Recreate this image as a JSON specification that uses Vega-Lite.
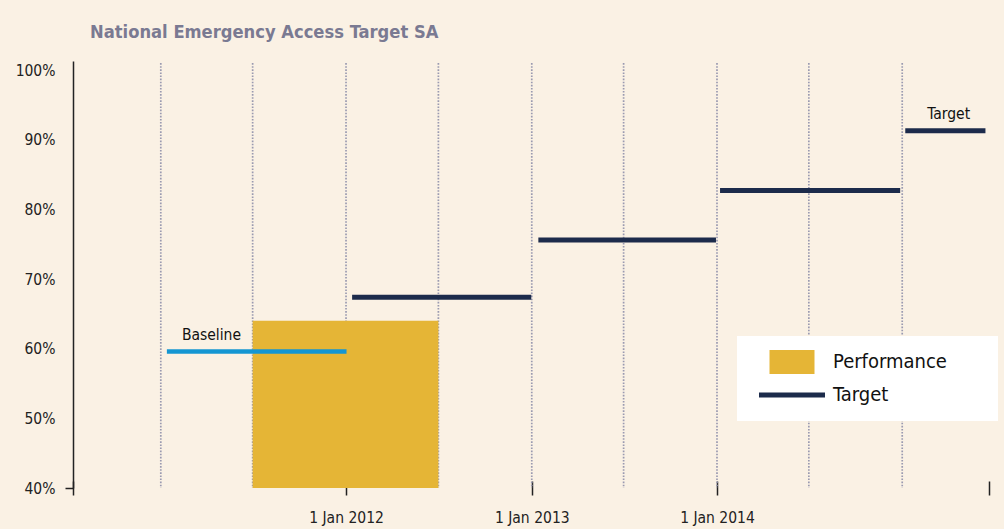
{
  "$schema": "https://vega.github.io/schema/vega-lite/v6.json",
  "autosize": "none",
  "width": 916,
  "height": 427,
  "padding": {"left": 73, "top": 61, "right": 15, "bottom": 41},
  "background": "#FAF1E4",
  "config": {
    "view": {"stroke": null},
    "font": "DejaVu Sans Condensed, sans-serif"
  },
  "title": {
    "text": "National Emergency Access Target SA",
    "anchor": "start",
    "frame": "group",
    "dx": 17,
    "offset": 19,
    "fontSize": 18.2,
    "fontWeight": "bold",
    "color": "#7A7A92",
    "font": "DejaVu Sans Condensed, sans-serif"
  },
  "datasets": {
    "series": [
      {"series": "Performance", "start": "2011-07-01", "end": "2012-07-01", "value": 64.0, "label": ""},
      {"series": "Baseline", "start": "2011-01-13", "end": "2012-01-02", "value": 59.6, "label": "Baseline"},
      {"series": "Target", "start": "2012-01-13", "end": "2012-12-31", "value": 67.4, "label": ""},
      {"series": "Target", "start": "2013-01-14", "end": "2013-12-30", "value": 75.6, "label": ""},
      {"series": "Target", "start": "2014-01-07", "end": "2014-12-28", "value": 82.7, "label": ""},
      {"series": "Target", "start": "2015-01-07", "end": "2015-06-14", "value": 91.3, "label": "Target"}
    ],
    "grid": [
      {"date": "2011-01-01"}, {"date": "2011-07-01"}, {"date": "2012-01-01"},
      {"date": "2012-07-01"}, {"date": "2013-01-01"}, {"date": "2013-07-01"},
      {"date": "2014-01-01"}, {"date": "2014-07-01"}, {"date": "2015-01-01"}
    ]
  },
  "layer": [
    {
      "data": {"name": "grid"},
      "mark": {"type": "rule", "color": "#9A9AB0", "strokeWidth": 1.7, "strokeDash": [1.6, 1.5]},
      "encoding": {
        "x": {
          "field": "date",
          "type": "temporal",
          "scale": {
            "type": "utc",
            "domain": [
              {"year": 2010, "month": 7, "date": 12, "utc": true},
              {"year": 2015, "month": 6, "date": 21, "utc": true}
            ],
            "nice": false
          },
          "axis": {
            "title": null,
            "orient": "bottom",
            "offset": -7,
            "zindex": 0,
            "domain": false,
            "grid": false,
            "values": [
              {"year": 2010, "month": 7, "date": 12, "utc": true},
              {"year": 2012, "month": 1, "date": 1, "utc": true},
              {"year": 2013, "month": 1, "date": 1, "utc": true},
              {"year": 2014, "month": 1, "date": 1, "utc": true},
              {"year": 2015, "month": 6, "date": 21, "utc": true}
            ],
            "labelExpr": "(utcyear(datum.value) < 2012 || utcyear(datum.value) > 2014) ? '' : utcFormat(datum.value, '%-d %b %Y')",
            "tickSize": 14,
            "tickWidth": 1.5,
            "tickColor": "#222222",
            "labelPadding": 15,
            "labelFontSize": 15.5,
            "labelColor": "#222222",
            "labelFont": "DejaVu Sans Condensed, sans-serif",
            "labelFlush": false,
            "labelOverlap": false
          }
        },
        "y": {
          "datum": 101,
          "type": "quantitative",
          "scale": {"domain": [40, 101.3], "nice": false, "zero": false},
          "axis": {
            "title": null,
            "values": [40, 50, 60, 70, 80, 90, 100],
            "labelExpr": "datum.value + '%'",
            "grid": false,
            "domainColor": "#222222",
            "domainWidth": 1.5,
            "tickSize": 8,
            "tickWidth": 1.5,
            "tickColor": "#222222",
            "tickOpacity": {"condition": {"test": "datum.value === 40", "value": 1}, "value": 0},
            "labelPadding": 10,
            "labelFontSize": 15.5,
            "labelColor": "#222222",
            "labelFont": "DejaVu Sans Condensed, sans-serif",
            "labelFlush": false,
            "labelOverlap": false
          }
        },
        "y2": {"datum": 40}
      }
    },
    {
      "data": {"name": "series"},
      "transform": [{"filter": "datum.series === 'Performance'"}],
      "mark": {"type": "rect"},
      "encoding": {
        "x": {"field": "start", "type": "temporal"},
        "x2": {"field": "end"},
        "y": {"field": "value", "type": "quantitative"},
        "y2": {"datum": 40},
        "color": {
          "field": "series",
          "type": "nominal",
          "scale": {"domain": ["Performance", "Target"], "range": ["#E5B536", "#1C2B4B"]},
          "legend": {
            "title": null,
            "orient": "none",
            "legendX": 664,
            "legendY": 275,
            "fillColor": "#FFFFFF",
            "padding": 16,
            "rowPadding": 11,
            "symbolSize": 900,
            "symbolOffset": 29,
            "labelOffset": 31,
            "labelFontSize": 20,
            "labelLimit": 300,
            "labelExpr": "datum.label + '\u00a0\u00a0\u00a0\u00a0\u00a0\u00a0\u200b'",
            "labelColor": "#111111",
            "labelFont": "DejaVu Sans Condensed, sans-serif",
            "encode": {
              "symbols": {
                "update": {
                  "shape": {"signal": "datum.value === 'Target' ? 'M-2.2,0H2.2' : 'M-1.5,-0.8H1.5V0.8H-1.5Z'"},
                  "fill": {"signal": "datum.value === 'Target' ? 'transparent' : '#E5B536'"},
                  "stroke": {"signal": "datum.value === 'Target' ? '#1C2B4B' : 'transparent'"},
                  "strokeWidth": {"signal": "datum.value === 'Target' ? 5 : 0"},
                  "opacity": {"value": 1},
                  "fillOpacity": {"value": 1},
                  "strokeOpacity": {"value": 1}
                }
              }
            }
          }
        }
      }
    },
    {
      "data": {"name": "series"},
      "transform": [{"filter": "datum.series === 'Baseline'"}],
      "mark": {"type": "rule", "color": "#1496D2", "strokeWidth": 4.5},
      "encoding": {
        "x": {"field": "start", "type": "temporal"},
        "x2": {"field": "end"},
        "y": {"field": "value", "type": "quantitative"}
      }
    },
    {
      "data": {"name": "series"},
      "transform": [{"filter": "datum.series === 'Target'"}],
      "mark": {"type": "rule", "strokeWidth": 5},
      "encoding": {
        "x": {"field": "start", "type": "temporal"},
        "x2": {"field": "end"},
        "y": {"field": "value", "type": "quantitative"},
        "color": {"field": "series", "type": "nominal"}
      }
    },
    {
      "data": {"name": "series"},
      "transform": [{"filter": "datum.label === 'Baseline'"}],
      "mark": {"type": "text", "align": "left", "baseline": "middle", "dx": 15, "dy": -16, "fontSize": 15.5, "color": "#111111"},
      "encoding": {
        "x": {"field": "start", "type": "temporal"},
        "y": {"field": "value", "type": "quantitative"},
        "text": {"field": "label"}
      }
    },
    {
      "data": {"name": "series"},
      "transform": [{"filter": "datum.label === 'Target'"}],
      "mark": {"type": "text", "align": "left", "baseline": "middle", "dx": 22, "dy": -17, "fontSize": 15.5, "color": "#111111"},
      "encoding": {
        "x": {"field": "start", "type": "temporal"},
        "y": {"field": "value", "type": "quantitative"},
        "text": {"field": "label"}
      }
    },
    {
      "mark": {"type": "rule", "color": "#222222", "strokeWidth": 1.5},
      "encoding": {"y": {"datum": 40}}
    }
  ]
}
